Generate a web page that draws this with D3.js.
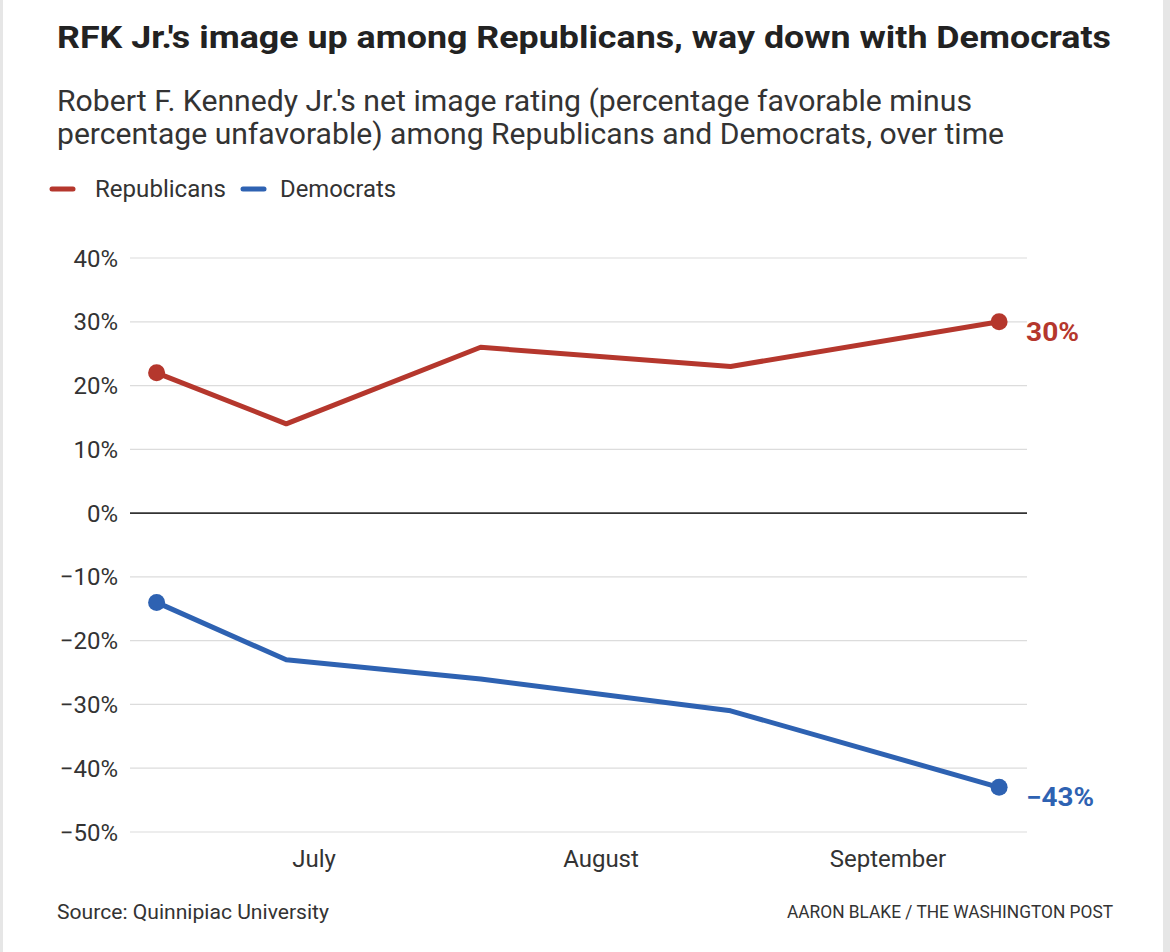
<!DOCTYPE html>
<html><head><meta charset="utf-8">
<script src="https://cdn.jsdelivr.net/npm/d3@7"></script>
<style>
body{margin:0;background:#fff;}
svg{display:block;}
</style></head>
<body>
<script>
const dates = ["2023-06-14","2023-06-28","2023-07-19","2023-08-15","2023-09-13"];
const republicans = [22, 14, 26, 23, 30];
const democrats = [-14, -23, -26, -31, -43];
const yTicks = [40, 30, 20, 10, 0, -10, -20, -30, -40, -50];
const xTickDates = ["2023-07-01","2023-08-01","2023-09-01"];
const xTickLabels = ["July","August","September"];
const seriesNames = ["Republicans","Democrats"];
const colors = ["#b5372d","#2e62b2"];

const W = 1170, H = 952;
const svg = d3.select("body").append("svg").attr("width", W).attr("height", H);
const font = "Roboto, 'Liberation Sans', sans-serif";

svg.append("rect").attr("width",W).attr("height",H).attr("fill","#fff");
svg.append("rect").attr("x",0).attr("y",0).attr("width",3).attr("height",H).attr("fill","#e6e6e6");
svg.append("rect").attr("x",1163).attr("y",0).attr("width",7).attr("height",H).attr("fill","#e6e6e6");

function txt(xp, yp, s, size, opts={}) {
  const t = svg.append("text").attr("x",xp).attr("y",yp).attr("font-family",font)
    .attr("font-size",size).attr("fill",opts.fill||"#333")
    .attr("font-weight",opts.bold?700:400)
    .attr("text-anchor",opts.anchor||"start").text(s);
  if (opts.len) t.attr("textLength",opts.len).attr("lengthAdjust","spacingAndGlyphs");
  return t;
}

txt(57, 48, "RFK Jr.'s image up among Republicans, way down with Democrats", 32, {bold:true, fill:"#222", len:1054});
txt(57, 111, "Robert F. Kennedy Jr.'s net image rating (percentage favorable minus", 29, {len:915});
txt(57, 144, "percentage unfavorable) among Republicans and Democrats, over time", 29, {len:947});

// legend
const legX = [50, 241];
const legLen = [131, 116];
seriesNames.forEach((n,i)=>{
  svg.append("line").attr("x1",legX[i]+2).attr("x2",legX[i]+23).attr("y1",189).attr("y2",189)
    .attr("stroke",colors[i]).attr("stroke-width",5).attr("stroke-linecap","round");
  txt(legX[i]+(i===0?45:39), 197, n, 23, {len:legLen[i]});
});

const parse = d3.timeParse("%Y-%m-%d");
const x = d3.scaleTime().domain([parse("2023-07-01"), parse("2023-09-01")]).range([314, 888]);
const y = d3.scaleLinear().domain([-50, 40]).range([832, 258]);

const fmt = v => (v<0 ? "\u2212"+Math.abs(v) : v) + "%";

// gridlines
yTicks.forEach(t=>{
  svg.append("line").attr("x1",130).attr("x2",1027).attr("y1",y(t)).attr("y2",y(t))
    .attr("stroke", t===0 ? "#333" : "#dcdcdc").attr("stroke-width", t===0 ? 1.6 : 1.2);
  txt(118, y(t)+8.5, fmt(t), 24, {anchor:"end"});
});
xTickDates.forEach((d,i)=>{
  txt(x(parse(d)), 867, xTickLabels[i], 24, {anchor:"middle"});
});

const series = [republicans, democrats];
const line = d3.line().x(d=>x(d.date)).y(d=>y(d.v));
const endLen = [53, 68];
series.forEach((vals,i)=>{
  const data = vals.map((v,j)=>({date:parse(dates[j]), v}));
  svg.append("path").datum(data).attr("d",line).attr("fill","none")
    .attr("stroke",colors[i]).attr("stroke-width",5).attr("stroke-linejoin","round");
  [data[0], data[data.length-1]].forEach(p=>{
    svg.append("circle").attr("cx",x(p.date)).attr("cy",y(p.v)).attr("r",8.5).attr("fill",colors[i]);
  });
  const last = data[data.length-1];
  txt(x(last.date)+27, y(last.v)+19, fmt(last.v), 25, {bold:true, fill:colors[i], len:endLen[i]});
});

txt(57, 919, "Source: Quinnipiac University", 21, {len:272});
txt(1113, 918, "AARON BLAKE / THE WASHINGTON POST", 17.5, {anchor:"end", len:326});
</script>
</body></html>
